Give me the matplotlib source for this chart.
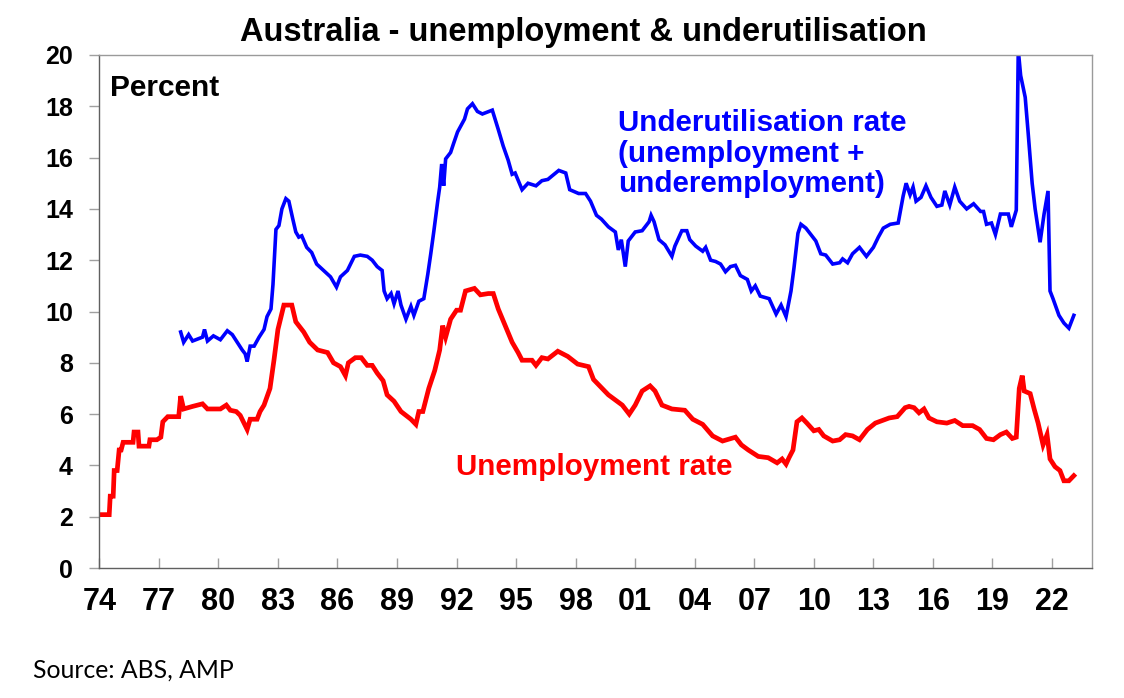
import matplotlib
matplotlib.use('Agg')
import matplotlib.pyplot as plt

# Unemployment rate (%)
unemp_year = [1974.0, 1974.5, 1974.55, 1974.7, 1974.75, 1974.9, 1975.0, 1975.1, 1975.2, 1975.7,
              1975.75, 1975.95, 1976.0, 1976.5, 1976.55, 1976.9, 1977.1, 1977.2, 1977.45, 1978.0,
              1978.1, 1978.25, 1978.7, 1979.2, 1979.45, 1980.1, 1980.4, 1980.6, 1980.9, 1981.1,
              1981.45, 1981.6, 1981.95, 1982.1, 1982.3, 1982.6, 1982.8, 1983.0, 1983.3, 1983.7,
              1983.9, 1984.3, 1984.6, 1985.0, 1985.5, 1985.8, 1986.15, 1986.4, 1986.55, 1986.9,
              1987.2, 1987.5, 1987.75, 1988.0, 1988.3, 1988.5, 1988.85, 1989.2, 1989.7, 1989.95,
              1990.1, 1990.3, 1990.6, 1990.9, 1991.15, 1991.3, 1991.45, 1991.7, 1992.0, 1992.2,
              1992.45, 1992.9, 1993.2, 1993.6, 1993.85, 1994.1, 1994.45, 1994.8, 1995.1, 1995.3,
              1995.8, 1996.0, 1996.3, 1996.6, 1997.1, 1997.6, 1998.1, 1998.65, 1998.9, 1999.15,
              1999.65, 2000.0, 2000.35, 2000.7, 2001.0, 2001.35, 2001.75, 2002.0, 2002.35, 2002.85,
              2003.5, 2003.9, 2004.4, 2004.9, 2005.4, 2006.05, 2006.35, 2006.7, 2007.2, 2007.7,
              2008.15, 2008.4, 2008.6, 2008.75, 2008.95, 2009.15, 2009.4, 2009.65, 2010.0, 2010.25,
              2010.5, 2010.95, 2011.3, 2011.6, 2011.95, 2012.3, 2012.7, 2013.1, 2013.45, 2013.8,
              2014.2, 2014.6, 2014.8, 2015.05, 2015.3, 2015.55, 2015.8, 2016.2, 2016.7, 2017.1,
              2017.5, 2018.0, 2018.35, 2018.7, 2019.05, 2019.4, 2019.7, 2020.0, 2020.2, 2020.35,
              2020.5, 2020.6, 2020.9, 2021.1, 2021.3, 2021.55, 2021.75, 2021.9, 2022.15, 2022.4,
              2022.6, 2022.85, 2023.1]
unemp_rate = [2.08, 2.08, 2.8, 2.8, 3.8, 3.8, 4.6, 4.6, 4.9, 4.9,
              5.3, 5.3, 4.75, 4.75, 5.0, 5.0, 5.1, 5.7, 5.9, 5.9,
              6.7, 6.2, 6.3, 6.4, 6.2, 6.2, 6.35, 6.15, 6.1, 5.95,
              5.4, 5.8, 5.8, 6.1, 6.35, 7.0, 8.1, 9.3, 10.25, 10.25,
              9.6, 9.2, 8.8, 8.5, 8.4, 8.0, 7.85, 7.5, 8.0, 8.2,
              8.2, 7.9, 7.9, 7.6, 7.3, 6.75, 6.5, 6.1, 5.8, 5.6,
              6.1, 6.1, 7.0, 7.7, 8.5, 9.45, 9.0, 9.7, 10.05, 10.05,
              10.8, 10.9, 10.65, 10.7, 10.7, 10.1, 9.45, 8.8, 8.4, 8.1,
              8.1, 7.9, 8.2, 8.15, 8.45, 8.25, 7.95, 7.85, 7.35, 7.15,
              6.75, 6.55, 6.35, 6.0, 6.35, 6.9, 7.1, 6.9, 6.35, 6.2,
              6.15, 5.8, 5.6, 5.15, 4.95, 5.1, 4.8, 4.6, 4.35, 4.3,
              4.1, 4.25, 4.05, 4.3, 4.6, 5.7, 5.85, 5.65, 5.35, 5.4,
              5.15, 4.95, 5.0, 5.2, 5.15, 5.0, 5.4, 5.65, 5.75, 5.85,
              5.9, 6.25, 6.3, 6.25, 6.05, 6.2, 5.85, 5.7, 5.65, 5.75,
              5.55, 5.55, 5.4, 5.05, 5.0, 5.2, 5.3, 5.05, 5.1, 7.0,
              7.5, 6.9, 6.8, 6.2, 5.65, 4.8, 5.2, 4.25, 3.95, 3.8,
              3.4, 3.4, 3.6]

# Underutilisation rate (%)
under_year = [1978.1, 1978.25, 1978.5, 1978.7, 1979.2, 1979.3, 1979.45, 1979.75, 1980.1, 1980.45,
              1980.7, 1980.95, 1981.2, 1981.35, 1981.45, 1981.6, 1981.8, 1982.05, 1982.3, 1982.45,
              1982.65, 1982.75, 1982.9, 1983.05, 1983.2, 1983.4, 1983.55, 1983.75, 1983.9, 1984.05,
              1984.2, 1984.45, 1984.7, 1984.95, 1985.3, 1985.65, 1985.95, 1986.15, 1986.5, 1986.85,
              1987.15, 1987.5, 1987.75, 1988.0, 1988.25, 1988.35, 1988.5, 1988.7, 1988.85, 1989.05,
              1989.2, 1989.45, 1989.7, 1989.85, 1990.1, 1990.35, 1990.55, 1990.7, 1990.85, 1991.05,
              1991.15, 1991.25, 1991.35, 1991.45, 1991.7, 1991.85, 1992.05, 1992.4, 1992.55, 1992.8,
              1993.05, 1993.3, 1993.8, 1994.1, 1994.35, 1994.6, 1994.8, 1994.95, 1995.3, 1995.6,
              1996.0, 1996.3, 1996.6, 1997.15, 1997.5, 1997.7, 1998.15, 1998.5, 1998.75, 1999.05,
              1999.3, 1999.65, 2000.0, 2000.15, 2000.3, 2000.5, 2000.65, 2000.8, 2001.0, 2001.35,
              2001.7, 2001.8, 2001.95, 2002.2, 2002.5, 2002.85, 2003.0, 2003.35, 2003.6, 2003.75,
              2004.05, 2004.4, 2004.55, 2004.8, 2005.05, 2005.3, 2005.55, 2005.8, 2006.05, 2006.3,
              2006.65, 2006.85, 2007.05, 2007.3, 2007.75, 2008.1, 2008.35, 2008.6, 2008.85, 2009.0,
              2009.2, 2009.35, 2009.6, 2009.95, 2010.1, 2010.35, 2010.6, 2010.95, 2011.3, 2011.45,
              2011.7, 2011.95, 2012.3, 2012.65, 2013.0, 2013.25, 2013.5, 2013.85, 2014.25, 2014.5,
              2014.65, 2014.85, 2015.0, 2015.15, 2015.4, 2015.65, 2015.9, 2016.2, 2016.45, 2016.6,
              2016.85, 2017.1, 2017.35, 2017.7, 2018.05, 2018.4, 2018.55, 2018.7, 2018.95, 2019.15,
              2019.4, 2019.65, 2019.8, 2019.95, 2020.2, 2020.3, 2020.42, 2020.65, 2020.8, 2021.0,
              2021.15, 2021.4, 2021.6, 2021.8, 2021.9, 2022.05, 2022.35, 2022.6, 2022.85, 2023.1]
under_rate = [9.2, 8.8, 9.1, 8.85, 9.0, 9.3, 8.85, 9.05, 8.9, 9.25,
              9.1, 8.8, 8.5, 8.35, 8.05, 8.65, 8.65, 9.0, 9.3, 9.8,
              10.1, 11.05, 13.2, 13.35, 14.0, 14.4, 14.3, 13.6, 13.1, 12.9,
              12.95, 12.5, 12.3, 11.85, 11.6, 11.35, 10.95, 11.35, 11.6, 12.15,
              12.2, 12.15, 12.0, 11.75, 11.6, 10.8, 10.5, 10.7, 10.3, 10.8,
              10.25, 9.7, 10.2, 9.85, 10.4, 10.5, 11.45, 12.25, 13.1, 14.3,
              14.85, 15.75, 14.9, 15.95, 16.2, 16.55, 17.0, 17.5, 17.9, 18.1,
              17.8, 17.7, 17.85, 17.1, 16.45, 15.9, 15.35, 15.4, 14.75, 15.0,
              14.9, 15.1, 15.15, 15.5, 15.4, 14.75, 14.6, 14.6, 14.3, 13.75,
              13.6, 13.3, 13.1, 12.4, 12.8, 11.75, 12.75, 12.9, 13.1, 13.15,
              13.5, 13.75, 13.5, 12.8, 12.6, 12.15, 12.55, 13.15, 13.15, 12.8,
              12.55, 12.35, 12.5, 12.0, 11.95, 11.85, 11.55, 11.75, 11.8, 11.4,
              11.25, 10.8, 11.0, 10.6, 10.5, 9.9, 10.25, 9.8, 10.8, 11.7,
              13.05, 13.4, 13.25, 12.9, 12.75, 12.25, 12.2, 11.85, 11.9, 12.05,
              11.9, 12.25, 12.5, 12.15, 12.5, 12.9, 13.25, 13.4, 13.45, 14.5,
              15.0, 14.55, 14.85, 14.3, 14.45, 14.9, 14.45, 14.1, 14.15, 14.7,
              14.15, 14.85, 14.3, 14.0, 14.2, 13.9, 13.9, 13.4, 13.45, 13.0,
              13.8, 13.8, 13.8, 13.3, 13.95, 20.2, 19.2, 18.35, 16.95, 15.0,
              14.0, 12.7, 13.8, 14.7, 10.8, 10.5, 9.85, 9.55, 9.35, 9.85]

tick_years = list(range(1974, 2023, 3))
tick_labels = ['%02d' % (y % 100) for y in tick_years]
under_label = ['Underutilisation rate', '(unemployment +', 'underemployment)']

plt.rcParams['font.family'] = ['Liberation Sans', 'DejaVu Sans']
plt.rcParams['font.weight'] = 'bold'

W, H = 1124, 698
fig = plt.figure(figsize=(W / 100, H / 100), dpi=100)
ax = fig.add_axes([99.3 / W, 1 - 568 / H, (1091.7 - 99.3) / W, (568 - 55) / H])

ax.plot(under_year, under_rate, color='#0000FF', lw=2.6, solid_joinstyle='miter')
ax.plot(unemp_year, unemp_rate, color='#FF0000', lw=3.4, solid_joinstyle='miter')

ax.set_xlim(1974, 2024)
ax.set_ylim(0, 20)
ax.set_yticks(range(0, 21, 2))
ax.set_xticks(tick_years)
ax.set_xticklabels(tick_labels)

for s in ax.spines.values():
    s.set_color('#9a9a9a')
    s.set_linewidth(1.0)
ax.spines['left'].set_color('#606060')
ax.spines['bottom'].set_color('#606060')

ax.tick_params(axis='y', direction='out', length=7, width=1, color='#a0a0a0',
               labelsize=18, pad=12)
ax.tick_params(axis='x', direction='in', length=7, width=1, color='#a0a0a0',
               labelsize=22, pad=14)

# text placed by pixel position of left edge / baseline
fig.text(583 / W, 1 - 41 / H, 'Australia - unemployment & underutilisation',
         ha='center', va='baseline', fontsize=23.5, fontweight='bold')
fig.text(110 / W, 1 - 96 / H, 'Percent', fontsize=21.5, fontweight='bold',
         va='baseline', ha='left')
for i, line in enumerate(under_label):
    fig.text(618 / W, 1 - (131 + 30.5 * i) / H, line, color='#0000FF',
             fontsize=21.3, fontweight='bold', va='baseline', ha='left')
fig.text(456 / W, 1 - 475 / H, 'Unemployment rate', color='#FF0000',
         fontsize=21.3, fontweight='bold', va='baseline', ha='left')

fig.text(33 / W, 1 - 678 / H, 'Source: ABS, AMP', fontsize=17.8, fontweight='normal',
         family=['Lato', 'DejaVu Sans'], ha='left', va='baseline')

fig.savefig('out.png', dpi=100)
